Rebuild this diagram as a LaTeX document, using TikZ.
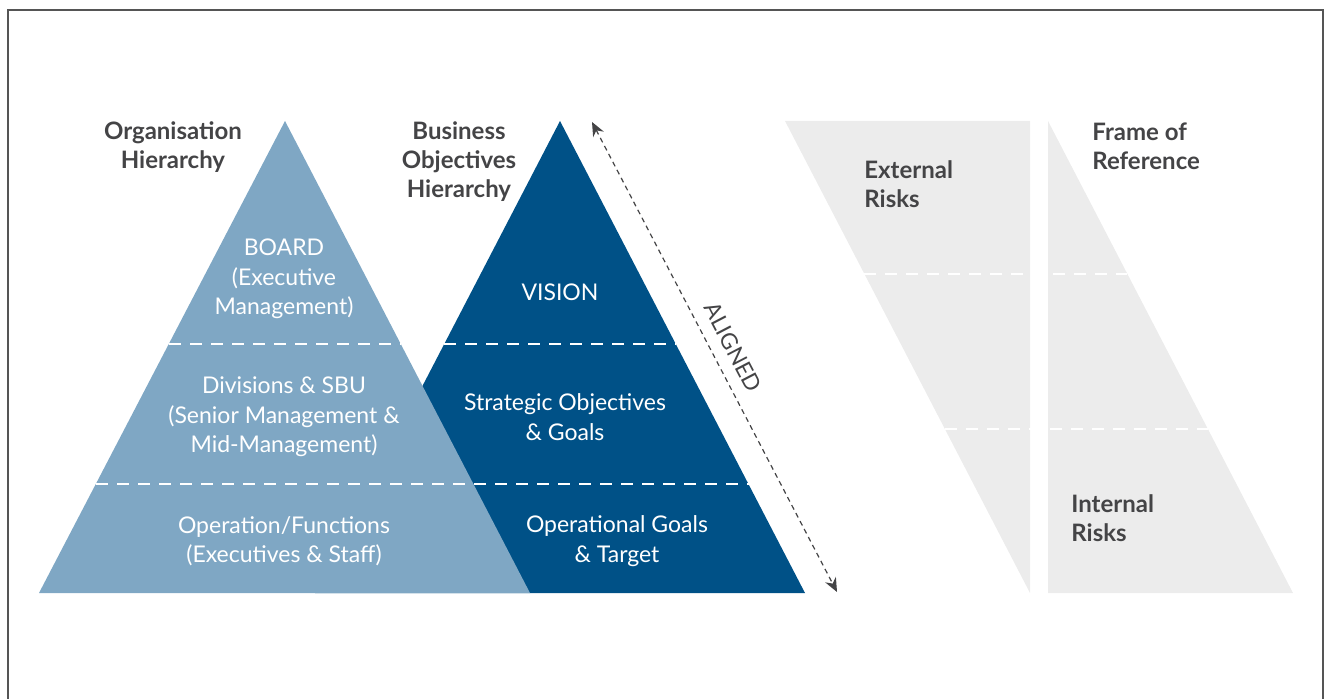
\documentclass[tikz,border=0pt]{standalone}
\usepackage{fontspec}
\setmainfont{Lato}
\usetikzlibrary{arrows.meta, positioning, calc}
\definecolor{orgblue}{RGB}{127,167,196}
\definecolor{objblue}{RGB}{0,81,135}
\definecolor{riskgray}{RGB}{236,236,236}
\definecolor{labelgray}{RGB}{68,68,70}
\definecolor{framegray}{RGB}{85,85,85}
\tikzset{
    tiertext/.style={text=white, align=center, inner sep=0pt,
        font=\fontsize{11.5}{14.75}\selectfont},
    heading/.style={text=labelgray, inner sep=0pt,
        font=\bfseries\fontsize{12}{14.5}\selectfont},
    tierline/.style={white, line width=1.3pt, dash pattern=on 6pt off 4.5pt},
    alignarrow/.style={{Stealth[length=7pt,width=6pt]}-{Stealth[length=7pt,width=6pt]},
        labelgray, line width=0.6pt, dash pattern=on 2.5pt off 2pt}
}

\begin{document}
\begin{tikzpicture}[x=0.5pt, y=-0.5pt]

    \useasboundingbox (0,0) rectangle (1327,699);
    \clip (0,0) rectangle (1327,699);
    \draw[framegray, line width=1pt] (8,720) -- (8,10) -- (1323,10) -- (1323,720);

    \coordinate (orgtop) at (285,121);
    \coordinate (objtop) at (560,121);

    \fill[riskgray] (785,121) -- (1030,121) -- (1030,593) -- cycle;
    \fill[riskgray] (1048,121) -- (1293,593) -- (1048,593) -- cycle;
    \draw[tierline] (864,274) -- (1127,274);
    \draw[tierline] (945,429) -- (1208,429);

    \fill[objblue] (objtop) -- (805,593) -- (315,593) -- cycle;
    \fill[orgblue] (orgtop) -- (530,593) -- (39,593) -- cycle;
    \draw[tierline] (169,344) -- (401,344);
    \draw[tierline] (444,344) -- (676,344);
    \draw[tierline] (96,484) -- (749,484);

    \node[heading, align=center] (orghead) at (173,147) {Organisation\\Hierarchy};
    \node[heading, align=center] (objhead) at (459,162) {Business\\Objectives\\Hierarchy};
    \node[heading, align=left, anchor=west] (extrisk) at (864,184) {External\\Risks};
    \node[heading, align=left, anchor=west] (frameref) at (1092,146) {Frame of\\Reference};
    \node[heading, align=left, anchor=west] (intrisk) at (1071,518) {Internal\\Risks};

    \node[tiertext] (board) at (284,279) {BOARD\\(Executive\\Management)};
    \node[tiertext] (division) at (284,417) {Divisions \& SBU\\(Senior Management \&\\Mid-Management)};
    \node[tiertext] (operation) at (284,541) {Operation/Functions\\(Executives \& Staff)};
    \node[tiertext] (vision) at (560,292) {VISION};
    \node[tiertext] (strategic) at (565,417) {Strategic Objectives\\\& Goals};
    \node[tiertext] (opgoals) at (617,541) {Operational Goals\\\& Target};

    \coordinate (aligntop) at (592,122);
    \coordinate (alignbot) at (837,592);
    \draw[alignarrow] (aligntop) -- node[midway, sloped, above=6pt, text=labelgray,
        font=\fontsize{11.3}{13}\selectfont, inner sep=0pt] (aligned) {ALIGNED} (alignbot);

\end{tikzpicture}
\end{document}
